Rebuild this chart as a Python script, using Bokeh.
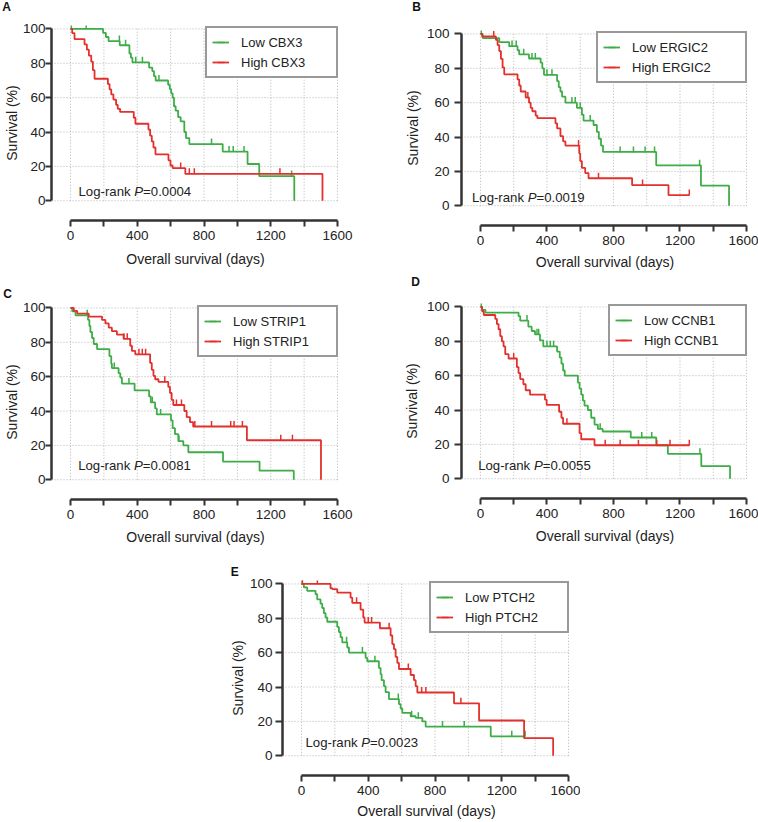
import numpy as np
from bokeh.plotting import figure
from bokeh.models import FixedTicker, Legend, LegendItem, Label, Range1d, Spacer
from bokeh.layouts import row, column
from bokeh.embed import file_html
from bokeh.resources import INLINE

# ------------------------------------------------------------------ data
day_ticks = [0, 400, 800, 1200, 1600]
day_minor_ticks = [200, 600, 1000, 1400]
day_grid = [0, 200, 400, 600, 800, 1000, 1200, 1400, 1600]
surv_ticks = [0, 20, 40, 60, 80, 100]

panel_letters = ["A", "B", "C", "D", "E"]
genes = ["CBX3", "ERGIC2", "STRIP1", "CCNB1", "PTCH2"]
p_values = ["0.0004", "0.0019", "0.0081", "0.0055", "0.0023"]

# A  CBX3
cbx3_low_t = [0, 195, 212, 228, 295, 353, 362, 371, 471, 490, 500, 510, 585, 595, 603, 612, 620, 630, 645, 660, 682, 692, 712, 912, 1061, 1131, 1341]
cbx3_low_s = [100, 97.7, 95.3, 92.9, 90.5, 85.7, 83.3, 80.5, 77.5, 75.5, 72.5, 70.0, 67.5, 65.0, 62.5, 60.0, 55.0, 52.5, 48.7, 46.2, 40.0, 36.5, 33.0, 28.6, 21.4, 14.3, 0]
cbx3_low_cens = [5, 94, 293, 330, 391, 431, 530, 845, 950, 975, 1040, 1325]
cbx3_high_t = [0, 10, 24, 84, 98, 110, 124, 134, 144, 224, 234, 244, 257, 273, 283, 297, 379, 389, 467, 477, 487, 497, 509, 587, 599, 612, 688, 1510]
cbx3_high_s = [100, 97.6, 94.1, 91.0, 87.9, 84.5, 81.0, 76.0, 71.0, 67.9, 64.8, 61.9, 58.9, 55.8, 53.5, 51.7, 48.3, 44.8, 41.4, 37.9, 34.5, 31.0, 27.0, 23.5, 20.5, 19.0, 15.6, 0]
cbx3_high_cens = [660, 712, 742, 1255]

# B  ERGIC2
ergic2_low_t = [0, 14, 113, 173, 223, 233, 292, 362, 372, 382, 461, 471, 481, 491, 511, 580, 610, 620, 680, 700, 712, 725, 737, 1057, 1326, 1495]
ergic2_low_s = [100, 97.6, 95.2, 92.9, 90.5, 88.1, 85.7, 83.3, 80.0, 76.2, 72.5, 69.0, 66.5, 63.5, 60.0, 57.0, 53.0, 49.5, 47.0, 43.0, 39.0, 35.0, 31.3, 23.5, 11.7, 0]
ergic2_low_cens = [5, 190, 215, 260, 310, 330, 400, 430, 550, 570, 600, 660, 840, 920, 990, 1047, 1318]
ergic2_high_t = [0, 10, 93, 103, 113, 123, 133, 143, 223, 233, 242, 272, 292, 302, 312, 332, 342, 451, 461, 481, 497, 511, 594, 600, 610, 630, 650, 912, 1131, 1256]
ergic2_high_s = [100, 98.5, 96.5, 93.5, 90.0, 85.5, 80.5, 76.5, 73.5, 70.0, 66.5, 63.0, 60.0, 57.0, 55.0, 52.5, 51.0, 48.0, 45.0, 40.5, 37.5, 35.0, 30.5, 26.0, 22.0, 19.0, 16.0, 12.0, 6.2, 6.2]
ergic2_high_cens = [80, 285, 590, 710, 975, 1256]

# C  STRIP1
strip1_low_t = [0, 10, 30, 105, 113, 119, 129, 139, 159, 233, 244, 248, 288, 298, 308, 384, 471, 481, 507, 517, 602, 612, 626, 646, 676, 706, 914, 1133, 1338]
strip1_low_s = [100, 98.0, 95.7, 93.0, 89.5, 86.0, 82.5, 79.0, 76.0, 72.0, 67.5, 65.0, 62.0, 59.5, 56.0, 52.0, 48.5, 45.0, 41.5, 38.0, 34.5, 30.0, 26.5, 22.5, 20.0, 16.0, 10.5, 5.3, 0]
strip1_low_cens = [100, 262, 350, 490, 540, 650]
strip1_high_t = [0, 20, 40, 109, 189, 209, 229, 248, 278, 318, 358, 368, 388, 477, 487, 497, 507, 527, 586, 596, 606, 616, 682, 696, 716, 735, 1057, 1501]
strip1_high_s = [100, 98.3, 96.7, 95.0, 93.0, 91.0, 88.5, 86.5, 84.5, 82.0, 78.0, 75.0, 73.0, 68.0, 64.0, 60.5, 58.5, 57.0, 54.0, 50.5, 46.5, 43.5, 40.0, 36.5, 33.5, 31.0, 23.0, 0]
strip1_high_cens = [320, 340, 410, 430, 450, 565, 635, 665, 745, 845, 960, 980, 1030, 1260, 1330]

# D  CCNB1
ccnb1_low_t = [0, 10, 30, 229, 239, 288, 308, 328, 358, 378, 461, 477, 487, 497, 507, 586, 596, 606, 616, 626, 646, 666, 686, 706, 735, 904, 1057, 1127, 1328, 1501]
ccnb1_low_s = [100, 98.3, 96.7, 94.7, 92.0, 88.5, 86.0, 84.0, 80.5, 77.0, 74.0, 70.5, 67.0, 63.0, 60.0, 56.0, 52.5, 49.0, 45.5, 42.5, 40.0, 35.5, 31.5, 29.0, 27.5, 24.0, 19.5, 14.5, 7.3, 0]
ccnb1_low_cens = [5, 280, 340, 350, 400, 420, 440, 720, 970, 1030, 1320]
ccnb1_high_t = [0, 10, 20, 89, 99, 109, 119, 129, 139, 149, 169, 219, 229, 239, 258, 272, 298, 388, 398, 473, 487, 497, 596, 606, 686, 1256]
ccnb1_high_s = [100, 97.5, 95.3, 93.0, 90.0, 87.0, 83.0, 80.0, 77.0, 72.5, 70.0, 65.0, 61.5, 58.0, 55.0, 51.5, 49.0, 46.0, 43.0, 39.0, 35.5, 32.0, 26.5, 23.0, 19.5, 19.5]
ccnb1_high_cens = [200, 520, 750, 840, 950, 1060, 1140, 1256]

# E  PTCH2
ptch2_low_t = [0, 14, 34, 84, 94, 114, 124, 134, 144, 154, 214, 224, 234, 244, 274, 284, 384, 394, 464, 474, 480, 494, 504, 524, 584, 594, 604, 654, 684, 724, 744, 1134, 1340]
ptch2_low_s = [100, 98.0, 96.0, 94.0, 91.0, 88.5, 86.0, 83.0, 80.5, 78.0, 75.0, 72.0, 69.0, 66.0, 63.0, 60.0, 57.0, 55.0, 51.0, 47.5, 44.0, 40.5, 37.0, 33.0, 30.0, 27.5, 25.0, 23.0, 22.0, 20.0, 17.0, 11.3, 11.3]
ptch2_low_cens = [5, 270, 365, 440, 580, 660, 700, 845, 975, 1260, 1340]
ptch2_high_t = [0, 174, 184, 214, 294, 304, 354, 370, 378, 470, 534, 544, 554, 564, 574, 584, 654, 674, 684, 694, 914, 1064, 1334, 1508]
ptch2_high_s = [100, 97.5, 97.0, 95.0, 92.0, 89.0, 85.0, 80.5, 77.5, 74.2, 70.0, 65.0, 62.0, 57.5, 54.0, 50.5, 47.0, 44.0, 40.5, 36.8, 30.5, 20.5, 10.2, 0]
ptch2_high_cens = [5, 95, 330, 400, 420, 525, 640, 720, 745, 955]

# positions of the "Log-rank P" note, in data units (days, %)
logrank_x = [48, -51, 46, -14, 24]
logrank_y = [5.2, 4.7, 8.3, 7.7, 7.7]

# ------------------------------------------------------------------ style / layout
GREEN = "#3ead48"
RED = "#e2302c"
INK = "#333333"
TEXT = "#222222"
GRID = "#b4b4b4"
FONT = "Liberation Sans"
X_RANGE = (-114, 1612)
Y_RANGE = (-11.5, 102)

# per panel geometry: figure size, borders, axis spacing, legend label width,
# letter position (pixels from frame left / up from frame top)
GEOM = [
    dict(w=400, h=273, bl=51, br=61, bt=25, bb=53, ytick=6, ylsd=0, ytsd=0, xtsd=8, lw=90, letter=(-44.8, 19)),
    dict(w=358, h=273, bl=60, br=10, bt=30, bb=48, ytick=7, ylsd=5, ytsd=3, xtsd=6, lw=108, letter=(-45, 23.5)),
    dict(w=400, h=280, bl=51, br=61, bt=31, bb=54, ytick=6, ylsd=0, ytsd=0, xtsd=7, lw=98, letter=(-43.8, 11)),
    dict(w=358, h=280, bl=61, br=9, bt=30, bb=55, ytick=7, ylsd=5, ytsd=4, xtsd=7, lw=96, letter=(-46, 21.5)),
    dict(w=354, h=269, bl=56, br=10, bt=27, bb=47, ytick=7, ylsd=3, ytsd=1, xtsd=5, lw=97, letter=(-47.8, 8.5)),
]
E_SPACER = 226

CURVES = [
    (cbx3_low_t, cbx3_low_s, cbx3_low_cens, cbx3_high_t, cbx3_high_s, cbx3_high_cens),
    (ergic2_low_t, ergic2_low_s, ergic2_low_cens, ergic2_high_t, ergic2_high_s, ergic2_high_cens),
    (strip1_low_t, strip1_low_s, strip1_low_cens, strip1_high_t, strip1_high_s, strip1_high_cens),
    (ccnb1_low_t, ccnb1_low_s, ccnb1_low_cens, ccnb1_high_t, ccnb1_high_s, ccnb1_high_cens),
    (ptch2_low_t, ptch2_low_s, ptch2_low_cens, ptch2_high_t, ptch2_high_s, ptch2_high_cens),
]


def surv_at(t, s, c):
    t = np.asarray(t, dtype=float)
    s = np.asarray(s, dtype=float)
    idx = np.searchsorted(t, np.asarray(c, dtype=float), side="right") - 1
    return s[np.clip(idx, 0, len(s) - 1)]


def text_width(txt, size):
    # Arial / Liberation Sans advance widths (1/1000 em)
    w = {"L": 556, "o": 556, "g": 556, "-": 333, "r": 333, "a": 556, "n": 556, "k": 500,
         " ": 278, "P": 667, "=": 584, ".": 278}
    return sum(w.get(ch, 556) for ch in txt) * size / 1000.0


def build_panel(i):
    g = GEOM[i]
    low_t, low_s, low_c, high_t, high_s, high_c = CURVES[i]
    p = figure(width=g["w"], height=g["h"],
               x_range=Range1d(*X_RANGE), y_range=Range1d(*Y_RANGE),
               output_backend="svg", toolbar_location=None,
               min_border_left=g["bl"], min_border_right=g["br"],
               min_border_top=g["bt"], min_border_bottom=g["bb"],
               outline_line_color=None, background_fill_color="white",
               border_fill_color="white")
    p.grid.visible = False

    # dotted grid
    p.segment(x0=day_grid, y0=[surv_ticks[0]] * len(day_grid),
              x1=day_grid, y1=[surv_ticks[-1]] * len(day_grid),
              line_color=GRID, line_width=1, line_dash="1 2")
    p.segment(x0=[X_RANGE[0]] * len(surv_ticks), y0=surv_ticks,
              x1=[day_ticks[-1]] * len(surv_ticks), y1=surv_ticks,
              line_color=GRID, line_width=1, line_dash="1 2")

    # axes
    xa = p.xaxis[0]
    xa.ticker = FixedTicker(ticks=day_ticks, minor_ticks=day_minor_ticks)
    xa.bounds = (day_ticks[0], day_ticks[-1])
    xa.axis_label = "Overall survival (days)"
    ya = p.yaxis[0]
    ya.ticker = FixedTicker(ticks=surv_ticks)
    ya.bounds = (surv_ticks[0], surv_ticks[-1])
    ya.axis_label = "Survival (%)"
    for ax in (xa, ya):
        ax.axis_line_color = INK
        ax.axis_line_width = 2.5
        ax.major_tick_line_color = INK
        ax.major_tick_line_width = 2
        ax.major_tick_in = 0
        ax.minor_tick_line_color = INK
        ax.minor_tick_line_width = 2
        ax.minor_tick_in = 0
        ax.major_label_text_font = FONT
        ax.major_label_text_font_size = "13.5px"
        ax.major_label_text_color = TEXT
        ax.axis_label_text_font = FONT
        ax.axis_label_text_font_size = "14px"
        ax.axis_label_text_font_style = "normal"
        ax.axis_label_text_color = TEXT
    xa.major_tick_out = 6
    xa.minor_tick_out = 6
    xa.major_label_standoff = 4
    xa.axis_label_standoff = g["xtsd"]
    ya.major_tick_out = g["ytick"]
    ya.minor_tick_out = 0
    ya.major_label_standoff = g["ylsd"]
    ya.axis_label_standoff = g["ytsd"]

    # curves
    lift = 1.5
    items = []
    for (t, s, c, col, lab) in ((low_t, low_s, low_c, GREEN, "Low " + genes[i]),
                                (high_t, high_s, high_c, RED, "High " + genes[i])):
        ln = p.step(x=t, y=s, mode="after", line_color=col, line_width=1.8)
        cy = surv_at(t, s, c) + lift
        mk = p.scatter(x=c, y=cy, marker="dash", angle=np.pi / 2, size=6,
                       line_color=col, line_width=1.5)
        items.append(LegendItem(label=lab, renderers=[ln, mk]))

    leg = Legend(items=items, location="top_right", margin=1, padding=5, spacing=2,
                 glyph_width=17, glyph_height=18, label_height=18,
                 label_width=g["lw"], label_standoff=12,
                 label_text_font=FONT, label_text_font_size="13px",
                 label_text_color=TEXT, border_line_color=INK, border_line_width=2,
                 background_fill_color="white", background_fill_alpha=1.0)
    p.add_layout(leg)

    # Log-rank note
    fs = 13.2
    parts = [("Log-rank ", "normal"), ("P", "italic"), ("=" + p_values[i], "normal")]
    off = 0.0
    for txt, style in parts:
        p.add_layout(Label(x=logrank_x[i], y=logrank_y[i], x_offset=off, text=txt,
                           text_font=FONT, text_font_size=f"{fs}px",
                           text_font_style=style, text_color=TEXT,
                           text_align="left", text_baseline="middle"))
        off += text_width(txt, fs)

    # panel letter, placed in the top border
    lx, ly = g["letter"]
    p.add_layout(Label(x=lx, y=ly, x_units="screen", y_units="screen",
                       text=panel_letters[i], text_font=FONT, text_font_size="12px",
                       text_font_style="bold", text_color="#111111",
                       text_align="center", text_baseline="middle"), "above")
    return p


figs = [build_panel(i) for i in range(5)]

root = column(
    row(column(figs[0], figs[2]), column(figs[1], figs[3])),
    row(Spacer(width=E_SPACER, height=GEOM[4]["h"]), figs[4]),
)

open("out.html", "w").write(file_html(root, INLINE, title="Kaplan-Meier survival"))
